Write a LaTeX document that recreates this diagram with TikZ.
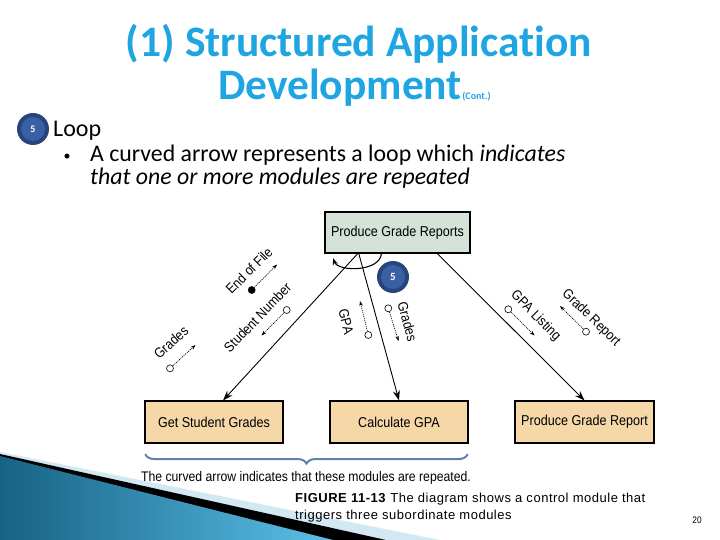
\documentclass[tikz,border=0pt]{standalone}
\usepackage{fontspec}
\setmainfont[Ligatures=NoCommon]{Carlito}
\newfontfamily\dfont[FakeStretch=0.88]{Liberation Sans}
\newfontfamily\cfont[LetterSpace=4]{Liberation Sans}
\usetikzlibrary{arrows.meta,calc,decorations.pathreplacing}
\definecolor{titleblue}{RGB}{30,165,226}
\definecolor{topfill}{RGB}{212,226,216}
\definecolor{botfill}{RGB}{246,216,168}
\definecolor{badgeout}{RGB}{40,68,122}
\definecolor{badgein}{RGB}{58,96,164}
\definecolor{bracecol}{RGB}{98,128,174}
\definecolor{paleblue}{RGB}{210,232,242}
\definecolor{deepteal}{RGB}{22,98,132}
\definecolor{lightteal}{RGB}{92,192,232}
\tikzset{
  modbox/.style={draw=black,line width=1.1pt,minimum width=138pt,minimum height=42pt,inner sep=0pt,font=\dfont\fontsize{14.3}{16}\selectfont},
  conn/.style={line width=0.9pt,-{Stealth[length=10pt,width=7pt]}},
  cpl/.style={line width=0.6pt,dash pattern=on 1.2pt off 0.9pt,-{Stealth[length=5pt,width=3.5pt]}},
  dcirc/.style={circle,draw=black,fill=white,line width=0.6pt,minimum size=7pt,inner sep=0pt},
  fcirc/.style={circle,draw=black,fill=black,line width=0.6pt,minimum size=7pt,inner sep=0pt},
  clabel/.style={font=\dfont\fontsize{14}{16}\selectfont,inner sep=0pt},
  badge/.style={circle,fill=badgeout,minimum size=32pt,inner sep=0pt},
}
\begin{document}
\begin{tikzpicture}[x=1pt,y=-1pt]
\useasboundingbox (0,0) rectangle (720,540);
% corner decoration
\fill[paleblue] (0,452) -- (440,540) -- (0,540) -- cycle;
\fill[black] (0,454) -- (386,540) -- (0,540) -- cycle;
\shade[shading angle=60,left color=deepteal,right color=lightteal] (0,456) -- (333,540) -- (0,540) -- cycle;
% title
\node[anchor=base,text=titleblue,font=\bfseries\fontsize{43.5}{48}\selectfont,inner sep=0pt] (t1) at (359,57) {(1) Structured Application};
\node[anchor=base,text=titleblue,font=\bfseries\fontsize{43.5}{48}\selectfont,inner sep=0pt] (t2) at (340,100) {Development};
\node[anchor=base west,text=titleblue,font=\bfseries\fontsize{10}{12}\selectfont,inner sep=0pt] (t3) at (t2.base east) {(Cont.)};
% loop heading
\node[badge] (b1) at (33,129) {};
\node[circle,fill=badgein,minimum size=24pt,inner sep=0pt,text=white,font=\bfseries\fontsize{10}{12}\selectfont] (b1i) at (b1.center) {5};
\node[anchor=base west,font=\fontsize{24}{28}\selectfont,inner sep=0pt] (loop) at (53,137) {Loop};
\node[anchor=base,font=\fontsize{14}{16}\selectfont,inner sep=0pt] (bul) at (67,161) {•};
\node[anchor=base west,font=\fontsize{23.8}{28}\selectfont,inner sep=0pt] (l1) at (90,162) {A curved arrow represents a loop which \textit{indicates}};
\node[anchor=base west,font=\itshape\fontsize{23.8}{28}\selectfont,inner sep=0pt] (l2) at (90,185) {that one or more modules are repeated};
% modules
\node[modbox,fill=topfill,minimum width=145pt,minimum height=41pt] (top) at (397.5,232.5) {Produce Grade Reports};
\node[modbox,fill=botfill] (gsg) at (214,422) {Get Student Grades};
\node[modbox,fill=botfill] (cgpa) at (399,422) {Calculate GPA};
\node[modbox,fill=botfill,minimum width=139pt] (pgr) at (584.5,422) {Produce Grade Report};
% connectors
\draw[conn] ($(top.south west)!0.228!(top.south east)$) -- ($(gsg.north west)!0.565!(gsg.north east)$);
\draw[conn] ($(top.south west)!0.235!(top.south east)$) -- (cgpa.north);
\draw[conn] ($(top.south west)!0.772!(top.south east)$) -- (pgr.north);
% loop arc
\coordinate (la) at ($(top.south west)!0.39!(top.south east)$);
\coordinate (lb) at (333,258);
\draw[line width=1.1pt,-{Stealth[length=7pt,width=5pt]}] (la) .. controls (380,272) and (338,272) .. (lb);
% badge 5 in diagram
\node[badge] (b2) at (393,277) {};
\node[circle,fill=badgein,minimum size=24pt,inner sep=0pt,text=white,font=\bfseries\fontsize{11}{12}\selectfont] (b2i) at (b2.center) {5};
% couples
\node[fcirc] (eof) at (251.7,290) {};
\coordinate (eoft) at (277,264.5);
\draw[cpl] (eof) -- (eoft);
\node[clabel,rotate=45] (eofl) at (249,270.5) {End of File};
\node[dcirc] (sn) at (286.7,310) {};
\coordinate (snt) at (261.5,335.5);
\draw[cpl] (sn) -- (snt);
\node[clabel,rotate=46] (snl) at (257.5,317.5) {Student Number};
\node[dcirc] (gr1) at (170,368.3) {};
\coordinate (gr1t) at (195.5,345);
\draw[cpl] (gr1) -- (gr1t);
\node[clabel,rotate=42] (gr1l) at (171,342.5) {Grades};
\node[dcirc] (gpa) at (368.3,335) {};
\coordinate (gpat) at (360,301);
\draw[cpl] (gpa) -- (gpat);
\node[clabel,rotate=-76] (gpal) at (346,321.7) {GPA};
\node[dcirc] (gr2) at (388.3,308.3) {};
\coordinate (gr2t) at (398.5,341);
\draw[cpl] (gr2) -- (gr2t);
\node[clabel,rotate=-75] (gr2l) at (407.5,321.7) {Grades};
\node[dcirc] (gl) at (508.3,309.3) {};
\coordinate (glt) at (534.5,335.5);
\draw[cpl] (gl) -- (glt);
\node[clabel,rotate=-45] (gll) at (535.5,316) {GPA Listing};
\node[dcirc] (grp) at (586,331.7) {};
\coordinate (grpt) at (560,306);
\draw[cpl] (grp) -- (grpt);
\node[clabel,rotate=-44] (grpl) at (591,318) {Grade Report};
% brace
\draw[bracecol,line width=2pt,line cap=round,decorate,decoration={brace,mirror,amplitude=9pt}] ($(gsg.south west)+(1,11)$) -- ($(cgpa.south east)+(-1,11)$);
\node[anchor=base,font=\dfont\fontsize{13.9}{16}\selectfont,inner sep=0pt] (cap1) at (306,481) {The curved arrow indicates that these modules are repeated.};
% figure caption
\node[anchor=base west,font=\cfont\fontsize{13}{15}\selectfont,inner sep=0pt] (f1) at (295,502) {\textbf{FIGURE 11-13} The diagram shows a control module that};
\node[anchor=base west,font=\cfont\fontsize{13}{15}\selectfont,inner sep=0pt] (f2) at (295,519) {triggers three subordinate modules};
\node[anchor=base,font=\dfont\fontsize{9.5}{11}\selectfont,inner sep=0pt] (pg) at (697,523) {20};
\end{tikzpicture}
\end{document}
